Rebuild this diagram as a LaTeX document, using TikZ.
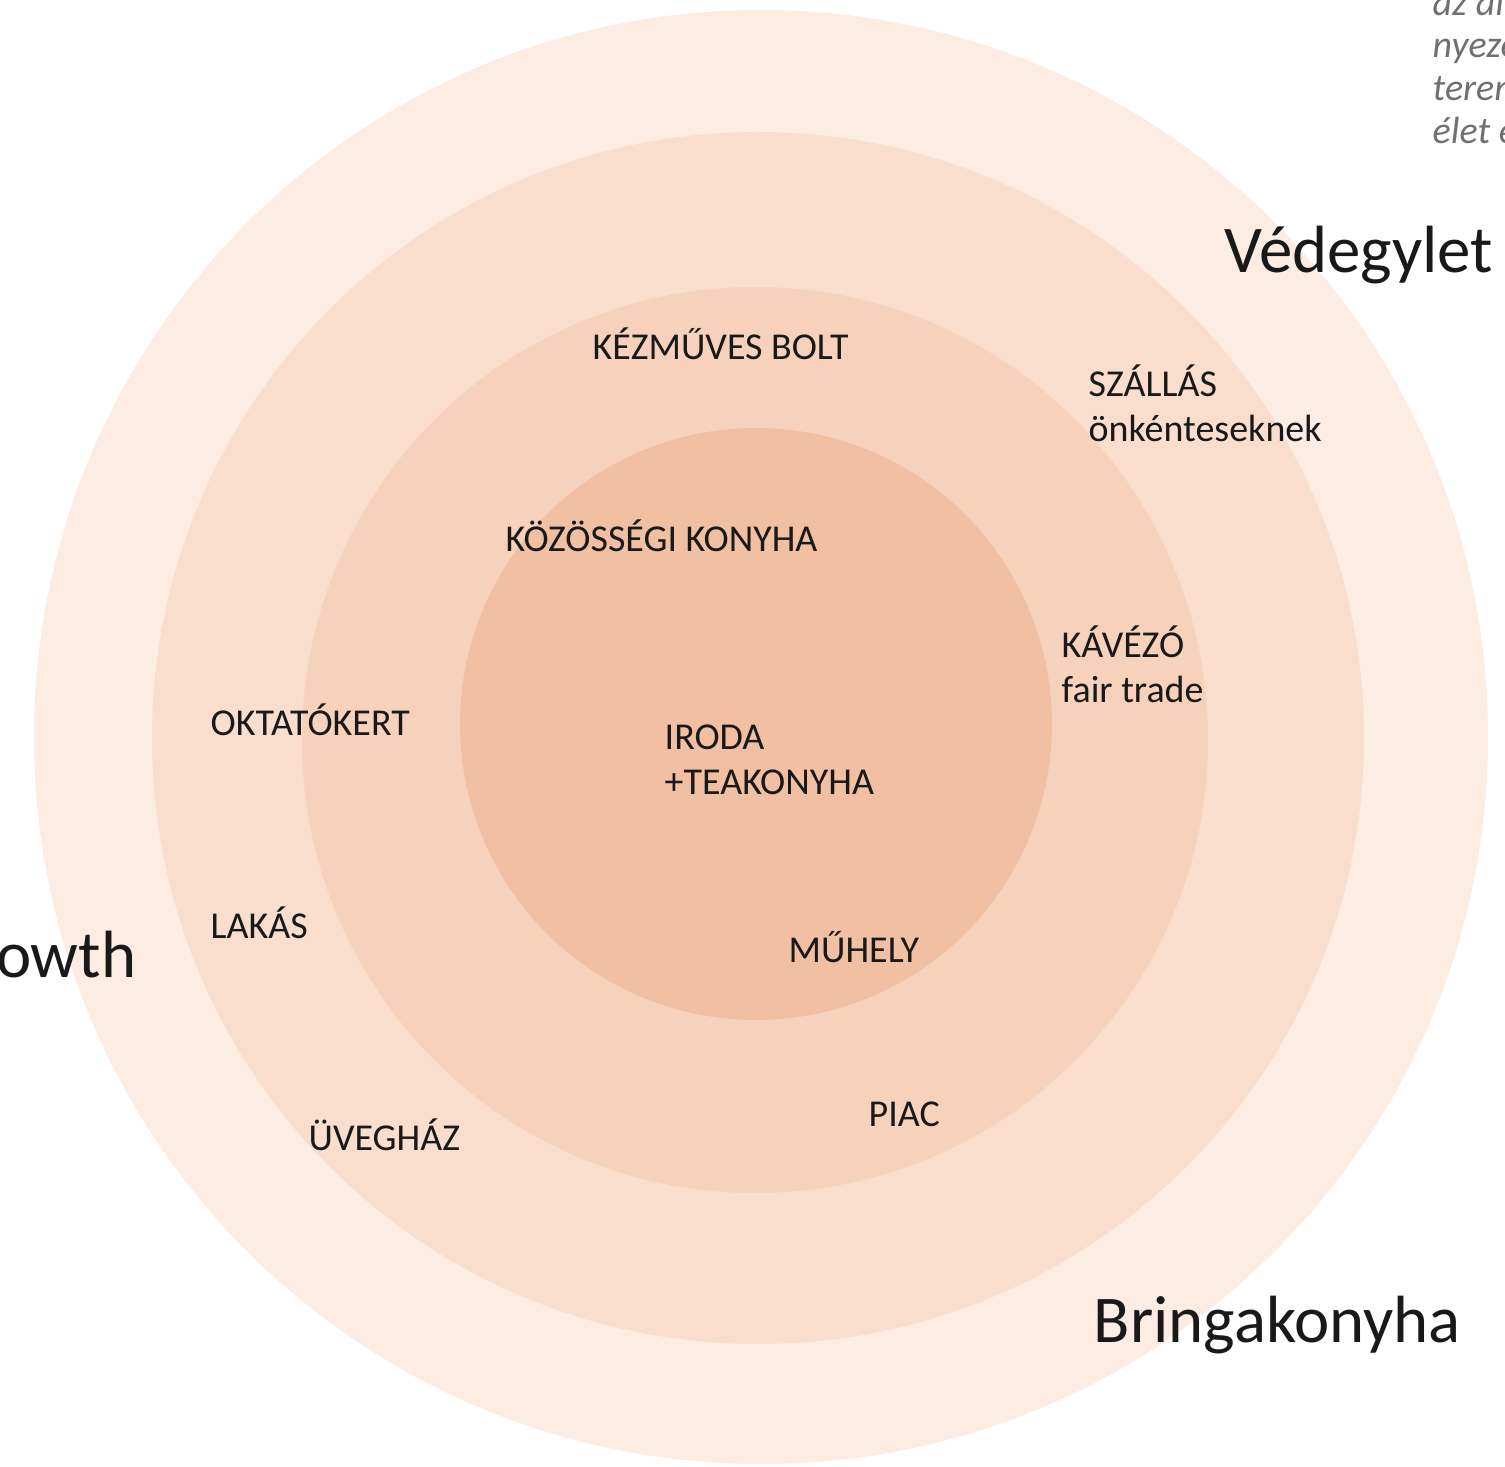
\documentclass[tikz,border=0pt]{standalone}
\usepackage{fontspec}
\setmainfont{Carlito}
\usepackage{tikz}
\usetikzlibrary{positioning}

\definecolor{ring1}{RGB}{252,236,226}
\definecolor{ring2}{RGB}{249,222,205}
\definecolor{ring3}{RGB}{246,210,188}
\definecolor{ring4}{RGB}{241,191,161}
\definecolor{notegray}{RGB}{112,112,112}

\begin{document}
\begin{tikzpicture}[x=0.01cm,y=-0.01cm,
  every node/.style={inner sep=0pt,anchor=west,text=black!90},
  room/.style={font=\fontsize{10.8}{12.8}\selectfont,align=left},
  group/.style={font=\fontsize{19}{22}\selectfont},
  note/.style={font=\fontsize{10.8}{12.2}\selectfont\itshape,text=notegray,align=left}]
  \useasboundingbox (0,0) rectangle (1505,1467);
  \clip (0,0) rectangle (1505,1467);

  \fill[ring1] (761,737) circle (727);
  \fill[ring2] (758,738) circle (606);
  \fill[ring3] (755,740) circle (453);
  \fill[ring4] (756,724) circle (296);

  \node[note,anchor=north west] (note) at (1432,-12) {az állandó\\nyezetet\\teremt\\élet egy};

  \node[group] (vedegylet) at (1224,255) {Védegylet};
  \node[group] (bringa) at (1093,1325) {Bringakonyha};
  \node[group,anchor=east] (degrowth) at (137,960) {Degrowth};

  \node[room] (bolt) at (592,344) {KÉZMŰVES BOLT};
  \node[room] (szallas) at (1088,403) {SZÁLLÁS\\önkénteseknek};
  \node[room] (konyha) at (505,536) {KÖZÖSSÉGI KONYHA};
  \node[room] (kavezo) at (1061,664) {KÁVÉZÓ\\fair trade};
  \node[room] (kert) at (210,720) {OKTATÓKERT};
  \node[room] (iroda) at (664,760) {IRODA\\+TEAKONYHA};
  \node[room] (lakas) at (210,923) {LAKÁS};
  \node[room] (muhely) at (788,947) {MŰHELY};
  \node[room] (uveghaz) at (308,1135) {ÜVEGHÁZ};
  \node[room] (piac) at (868,1114) {PIAC};
\end{tikzpicture}
\end{document}
